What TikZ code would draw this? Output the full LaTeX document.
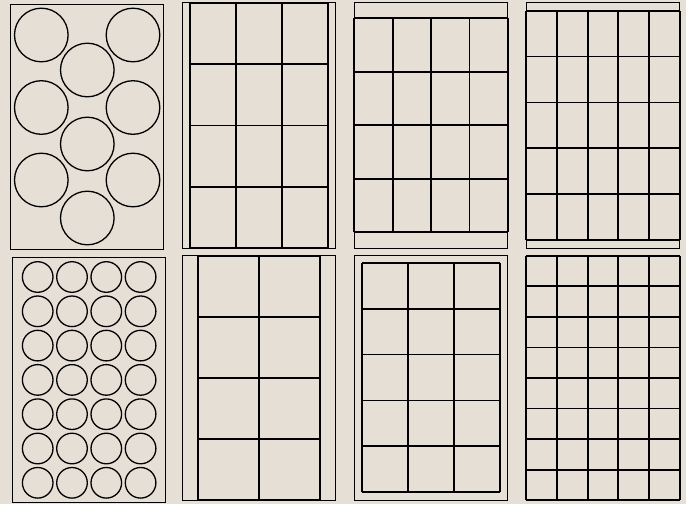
\documentclass[tikz,border=0pt]{standalone}
\usetikzlibrary{positioning}
\definecolor{paper}{RGB}{229,223,213}
\tikzset{
  sheet/.style={draw=black, line width=1.3pt},
  cutline/.style={draw=black, line width=1.7pt},
  disc/.style={draw=black, line width=1.3pt},
}
\begin{document}
\begin{tikzpicture}[x=1pt,y=-1pt]
\fill[paper] (0,0) rectangle (686,504);
\useasboundingbox (0,0) rectangle (686,504);
% top row
\draw[sheet] (10.3,4.3) rectangle (163.7,249.3);
\foreach \y in {35,107.5,180} {
  \draw[disc] (41.3,\y) circle (26.8);
  \draw[disc] (133,\y) circle (26.8);
}
\foreach \y in {70,144,218} \draw[disc] (87.3,\y) circle (26.8);
\draw[sheet] (182.3,2.7) rectangle (335.7,248.3);
\foreach \i in {0,...,3} \draw[cutline] (190+45.9*\i,2.7) -- (190+45.9*\i,248.3);
\foreach \j in {0,...,4} \draw[cutline] (190,2.7+61.4*\j) -- (327.7,2.7+61.4*\j);
\draw[sheet] (354.3,2.7) rectangle (507.7,248.3);
\foreach \i in {0,...,4} \draw[cutline] (354.3+38.35*\i,18.3) -- (354.3+38.35*\i,232.3);
\foreach \j in {0,...,4} \draw[cutline] (354.3,18.3+53.5*\j) -- (507.7,18.3+53.5*\j);
\draw[sheet] (526.3,2.7) rectangle (679.7,248.3);
\foreach \i in {0,...,5} \draw[cutline] (526.3+30.68*\i,10.7) -- (526.3+30.68*\i,240);
\foreach \j in {0,...,5} \draw[cutline] (526.3,10.7+45.86*\j) -- (679.7,10.7+45.86*\j);
% bottom row
\draw[sheet] (12.3,257.3) rectangle (165.7,502.3);
\foreach \i in {0,...,3}
  \foreach \j in {0,...,6}
    \draw[disc] (37.7+34.3*\i,277+34.3*\j) circle (15.3);
\draw[sheet] (182.3,255.7) rectangle (335.7,500.3);
\foreach \i in {0,...,2} \draw[cutline] (197.7+61.3*\i,255.7) -- (197.7+61.3*\i,500.3);
\foreach \j in {0,...,4} \draw[cutline] (197.7,255.7+61.15*\j) -- (320.3,255.7+61.15*\j);
\draw[sheet] (354.3,255.7) rectangle (507.7,500.3);
\foreach \i in {0,...,3} \draw[cutline] (362+45.9*\i,263) -- (362+45.9*\i,492);
\foreach \j in {0,...,5} \draw[cutline] (362,263+45.8*\j) -- (499.7,263+45.8*\j);
\draw[sheet] (526.3,255.7) rectangle (679.7,500.3);
\foreach \i in {0,...,5} \draw[cutline] (526.3+30.68*\i,255.7) -- (526.3+30.68*\i,500.3);
\foreach \j in {0,...,8} \draw[cutline] (526.3,255.7+30.575*\j) -- (679.7,255.7+30.575*\j);
\end{tikzpicture}
\end{document}
